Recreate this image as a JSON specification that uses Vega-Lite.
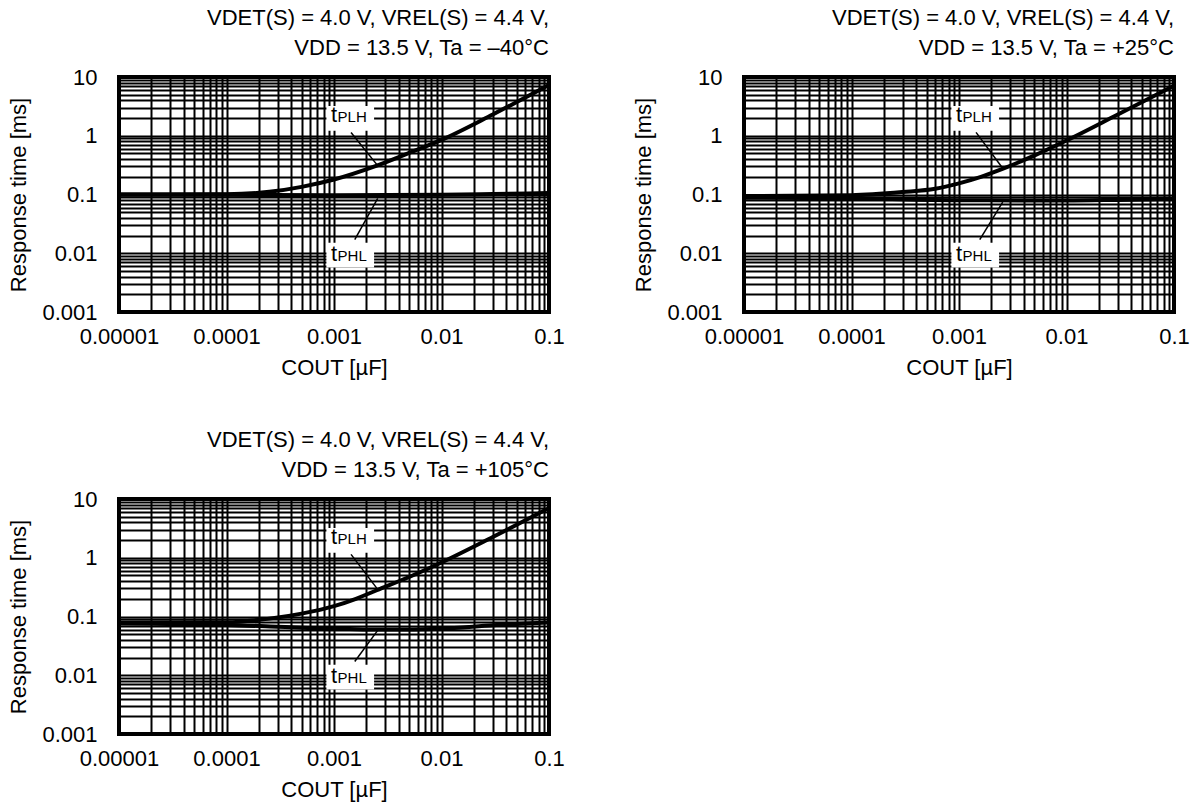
{
  "$schema": "https://vega.github.io/schema/vega-lite/v6.json",
  "padding": {"left": 5, "top": 5, "right": 5, "bottom": 5},
  "config": {
    "font": "Liberation Sans",
    "view": {"stroke": "black", "strokeWidth": 4},
    "axis": {
      "grid": true, "gridColor": "black", "gridWidth": 2, "gridOpacity": 1,
      "ticks": false, "tickSize": 0, "domain": false,
      "labelFont": "Liberation Sans", "labelFontSize": 22, "labelColor": "black",
      "labelFlush": false, "labelOverlap": false,
      "titleFont": "Liberation Sans", "titleFontSize": 22, "titleFontWeight": "normal", "titleColor": "black"
    },
    "title": {"font": "Liberation Sans", "fontSize": 22, "fontWeight": "normal", "color": "black", "anchor": "end", "frame": "group", "lineHeight": 30, "offset": 6}
  },
  "datasets": {
    "curves": [
      {"panel": "a", "series": "tPLH", "c": 0.00001, "t": 0.1},
      {"panel": "a", "series": "tPLH", "c": 0.00003, "t": 0.1},
      {"panel": "a", "series": "tPLH", "c": 0.0001, "t": 0.101},
      {"panel": "a", "series": "tPLH", "c": 0.00025, "t": 0.111},
      {"panel": "a", "series": "tPLH", "c": 0.0005, "t": 0.135},
      {"panel": "a", "series": "tPLH", "c": 0.001, "t": 0.18},
      {"panel": "a", "series": "tPLH", "c": 0.0025, "t": 0.31},
      {"panel": "a", "series": "tPLH", "c": 0.005, "t": 0.51},
      {"panel": "a", "series": "tPLH", "c": 0.01, "t": 0.85},
      {"panel": "a", "series": "tPLH", "c": 0.03, "t": 2.3},
      {"panel": "a", "series": "tPLH", "c": 0.1, "t": 7.3},
      {"panel": "a", "series": "tPHL", "c": 0.00001, "t": 0.1},
      {"panel": "a", "series": "tPHL", "c": 0.0001, "t": 0.099},
      {"panel": "a", "series": "tPHL", "c": 0.001, "t": 0.097},
      {"panel": "a", "series": "tPHL", "c": 0.01, "t": 0.099},
      {"panel": "a", "series": "tPHL", "c": 0.03, "t": 0.102},
      {"panel": "a", "series": "tPHL", "c": 0.1, "t": 0.106},
      {"panel": "b", "series": "tPLH", "c": 0.00001, "t": 0.094},
      {"panel": "b", "series": "tPLH", "c": 0.0001, "t": 0.097},
      {"panel": "b", "series": "tPLH", "c": 0.0003, "t": 0.11},
      {"panel": "b", "series": "tPLH", "c": 0.0006, "t": 0.125},
      {"panel": "b", "series": "tPLH", "c": 0.001, "t": 0.155},
      {"panel": "b", "series": "tPLH", "c": 0.0016, "t": 0.2},
      {"panel": "b", "series": "tPLH", "c": 0.0025, "t": 0.27},
      {"panel": "b", "series": "tPLH", "c": 0.005, "t": 0.46},
      {"panel": "b", "series": "tPLH", "c": 0.01, "t": 0.83},
      {"panel": "b", "series": "tPLH", "c": 0.03, "t": 2.3},
      {"panel": "b", "series": "tPLH", "c": 0.1, "t": 7.1},
      {"panel": "b", "series": "tPHL", "c": 0.00001, "t": 0.088},
      {"panel": "b", "series": "tPHL", "c": 0.0001, "t": 0.086},
      {"panel": "b", "series": "tPHL", "c": 0.001, "t": 0.08},
      {"panel": "b", "series": "tPHL", "c": 0.01, "t": 0.079},
      {"panel": "b", "series": "tPHL", "c": 0.03, "t": 0.081},
      {"panel": "b", "series": "tPHL", "c": 0.1, "t": 0.084},
      {"panel": "c", "series": "tPLH", "c": 0.00001, "t": 0.079},
      {"panel": "c", "series": "tPLH", "c": 0.0001, "t": 0.08},
      {"panel": "c", "series": "tPLH", "c": 0.00025, "t": 0.092},
      {"panel": "c", "series": "tPLH", "c": 0.0005, "t": 0.112},
      {"panel": "c", "series": "tPLH", "c": 0.001, "t": 0.15},
      {"panel": "c", "series": "tPLH", "c": 0.0016, "t": 0.2},
      {"panel": "c", "series": "tPLH", "c": 0.0025, "t": 0.28},
      {"panel": "c", "series": "tPLH", "c": 0.005, "t": 0.47},
      {"panel": "c", "series": "tPLH", "c": 0.01, "t": 0.83},
      {"panel": "c", "series": "tPLH", "c": 0.03, "t": 2.25},
      {"panel": "c", "series": "tPLH", "c": 0.1, "t": 7.0},
      {"panel": "c", "series": "tPHL", "c": 0.00001, "t": 0.076},
      {"panel": "c", "series": "tPHL", "c": 0.0001, "t": 0.072},
      {"panel": "c", "series": "tPHL", "c": 0.0003, "t": 0.067},
      {"panel": "c", "series": "tPHL", "c": 0.001, "t": 0.062},
      {"panel": "c", "series": "tPHL", "c": 0.003, "t": 0.06},
      {"panel": "c", "series": "tPHL", "c": 0.01, "t": 0.062},
      {"panel": "c", "series": "tPHL", "c": 0.03, "t": 0.071},
      {"panel": "c", "series": "tPHL", "c": 0.1, "t": 0.079}
    ],
    "boxes": [
      {"series": "tPLH", "c": 0.00085, "c2": 0.00236, "t": 1.22, "t2": 3.21},
      {"series": "tPHL", "c": 0.00085, "c2": 0.00236, "t": 0.00571, "t2": 0.01507}
    ],
    "leaders": [
      {"panel": "a", "series": "tPLH", "c": 0.00144, "t": 1.14, "c2": 0.00255, "t2": 0.31},
      {"panel": "a", "series": "tPHL", "c": 0.00156, "t": 0.0171, "c2": 0.00255, "t2": 0.086},
      {"panel": "b", "series": "tPLH", "c": 0.00144, "t": 1.14, "c2": 0.00255, "t2": 0.28},
      {"panel": "b", "series": "tPHL", "c": 0.00156, "t": 0.0171, "c2": 0.00255, "t2": 0.074},
      {"panel": "c", "series": "tPLH", "c": 0.00144, "t": 1.14, "c2": 0.00255, "t2": 0.29},
      {"panel": "c", "series": "tPHL", "c": 0.00156, "t": 0.0171, "c2": 0.00255, "t2": 0.058}
    ],
    "mainLetters": [
      {"series": "tPLH", "c": 0.00094, "t": 1.73, "label": "t"},
      {"series": "tPHL", "c": 0.00094, "t": 0.0074, "label": "t"}
    ],
    "subLetters": [
      {"series": "tPLH", "c": 0.00108, "t": 1.73, "label": "PLH"},
      {"series": "tPHL", "c": 0.00108, "t": 0.0074, "label": "PHL"}
    ]
  },
  "columns": 2,
  "spacing": {"row": 47, "column": 63},
  "concat": [
    {
      "width": 430, "height": 235,
      "title": {"text": ["VDET(S) = 4.0 V, VREL(S) = 4.4 V,", "VDD = 13.5 V, Ta = –40°C"]},
      "encoding": {
        "x": {"field": "c", "type": "quantitative", "scale": {"type": "log", "domain": [0.00001, 0.1], "nice": false},
          "axis": {"title": "COUT [µF]", "titlePadding": 10, "labelPadding": 14, "format": "~g",
            "values": [0.00001,0.00002,0.00003,0.00004,0.00005,0.00006,0.00007,0.00008,0.00009,0.0001,0.0002,0.0003,0.0004,0.0005,0.0006,0.0007,0.0008,0.0009,0.001,0.002,0.003,0.004,0.005,0.006,0.007,0.008,0.009,0.01,0.02,0.03,0.04,0.05,0.06,0.07,0.08,0.09,0.1],
            "labelExpr": "abs(log(datum.value)/LN10 - round(log(datum.value)/LN10)) < 0.000001 ? datum.label : ''"}},
        "y": {"field": "t", "type": "quantitative", "scale": {"type": "log", "domain": [0.001, 10], "nice": false},
          "axis": {"title": "Response time [ms]", "titlePadding": 11, "labelPadding": 22, "format": "~g",
            "values": [0.001,0.002,0.003,0.004,0.005,0.006,0.007,0.008,0.009,0.01,0.02,0.03,0.04,0.05,0.06,0.07,0.08,0.09,0.1,0.2,0.3,0.4,0.5,0.6,0.7,0.8,0.9,1,2,3,4,5,6,7,8,9,10],
            "labelExpr": "abs(log(datum.value)/LN10 - round(log(datum.value)/LN10)) < 0.000001 ? datum.label : ''"}}
      },
      "layer": [
        {"data": {"name": "curves"}, "transform": [{"filter": "datum.panel == 'a'"}],
          "mark": {"type": "line", "color": "black", "strokeWidth": 4, "interpolate": "monotone", "clip": true},
          "encoding": {"detail": {"field": "series"}}},
        {"data": {"name": "boxes"}, "mark": {"type": "rect", "fill": "white"},
          "encoding": {"x2": {"field": "c2"}, "y2": {"field": "t2"}}},
        {"data": {"name": "leaders"}, "transform": [{"filter": "datum.panel == 'a'"}],
          "mark": {"type": "rule", "color": "black", "strokeWidth": 1.5},
          "encoding": {"x2": {"field": "c2"}, "y2": {"field": "t2"}}},
        {"data": {"name": "mainLetters"}, "mark": {"type": "text", "fontSize": 22, "align": "left", "baseline": "alphabetic", "color": "black"},
          "encoding": {"text": {"field": "label"}}},
        {"data": {"name": "subLetters"}, "mark": {"type": "text", "fontSize": 15, "align": "left", "baseline": "alphabetic", "color": "black"},
          "encoding": {"text": {"field": "label"}}}
      ]
    },
    {
      "width": 430, "height": 235,
      "title": {"text": ["VDET(S) = 4.0 V, VREL(S) = 4.4 V,", "VDD = 13.5 V, Ta = +25°C"]},
      "encoding": {
        "x": {"field": "c", "type": "quantitative", "scale": {"type": "log", "domain": [0.00001, 0.1], "nice": false},
          "axis": {"title": "COUT [µF]", "titlePadding": 10, "labelPadding": 14, "format": "~g",
            "values": [0.00001,0.00002,0.00003,0.00004,0.00005,0.00006,0.00007,0.00008,0.00009,0.0001,0.0002,0.0003,0.0004,0.0005,0.0006,0.0007,0.0008,0.0009,0.001,0.002,0.003,0.004,0.005,0.006,0.007,0.008,0.009,0.01,0.02,0.03,0.04,0.05,0.06,0.07,0.08,0.09,0.1],
            "labelExpr": "abs(log(datum.value)/LN10 - round(log(datum.value)/LN10)) < 0.000001 ? datum.label : ''"}},
        "y": {"field": "t", "type": "quantitative", "scale": {"type": "log", "domain": [0.001, 10], "nice": false},
          "axis": {"title": "Response time [ms]", "titlePadding": 11, "labelPadding": 22, "format": "~g",
            "values": [0.001,0.002,0.003,0.004,0.005,0.006,0.007,0.008,0.009,0.01,0.02,0.03,0.04,0.05,0.06,0.07,0.08,0.09,0.1,0.2,0.3,0.4,0.5,0.6,0.7,0.8,0.9,1,2,3,4,5,6,7,8,9,10],
            "labelExpr": "abs(log(datum.value)/LN10 - round(log(datum.value)/LN10)) < 0.000001 ? datum.label : ''"}}
      },
      "layer": [
        {"data": {"name": "curves"}, "transform": [{"filter": "datum.panel == 'b'"}],
          "mark": {"type": "line", "color": "black", "strokeWidth": 4, "interpolate": "monotone", "clip": true},
          "encoding": {"detail": {"field": "series"}}},
        {"data": {"name": "boxes"}, "mark": {"type": "rect", "fill": "white"},
          "encoding": {"x2": {"field": "c2"}, "y2": {"field": "t2"}}},
        {"data": {"name": "leaders"}, "transform": [{"filter": "datum.panel == 'b'"}],
          "mark": {"type": "rule", "color": "black", "strokeWidth": 1.5},
          "encoding": {"x2": {"field": "c2"}, "y2": {"field": "t2"}}},
        {"data": {"name": "mainLetters"}, "mark": {"type": "text", "fontSize": 22, "align": "left", "baseline": "alphabetic", "color": "black"},
          "encoding": {"text": {"field": "label"}}},
        {"data": {"name": "subLetters"}, "mark": {"type": "text", "fontSize": 15, "align": "left", "baseline": "alphabetic", "color": "black"},
          "encoding": {"text": {"field": "label"}}}
      ]
    },
    {
      "width": 430, "height": 235,
      "title": {"text": ["VDET(S) = 4.0 V, VREL(S) = 4.4 V,", "VDD = 13.5 V, Ta = +105°C"]},
      "encoding": {
        "x": {"field": "c", "type": "quantitative", "scale": {"type": "log", "domain": [0.00001, 0.1], "nice": false},
          "axis": {"title": "COUT [µF]", "titlePadding": 10, "labelPadding": 14, "format": "~g",
            "values": [0.00001,0.00002,0.00003,0.00004,0.00005,0.00006,0.00007,0.00008,0.00009,0.0001,0.0002,0.0003,0.0004,0.0005,0.0006,0.0007,0.0008,0.0009,0.001,0.002,0.003,0.004,0.005,0.006,0.007,0.008,0.009,0.01,0.02,0.03,0.04,0.05,0.06,0.07,0.08,0.09,0.1],
            "labelExpr": "abs(log(datum.value)/LN10 - round(log(datum.value)/LN10)) < 0.000001 ? datum.label : ''"}},
        "y": {"field": "t", "type": "quantitative", "scale": {"type": "log", "domain": [0.001, 10], "nice": false},
          "axis": {"title": "Response time [ms]", "titlePadding": 11, "labelPadding": 22, "format": "~g",
            "values": [0.001,0.002,0.003,0.004,0.005,0.006,0.007,0.008,0.009,0.01,0.02,0.03,0.04,0.05,0.06,0.07,0.08,0.09,0.1,0.2,0.3,0.4,0.5,0.6,0.7,0.8,0.9,1,2,3,4,5,6,7,8,9,10],
            "labelExpr": "abs(log(datum.value)/LN10 - round(log(datum.value)/LN10)) < 0.000001 ? datum.label : ''"}}
      },
      "layer": [
        {"data": {"name": "curves"}, "transform": [{"filter": "datum.panel == 'c'"}],
          "mark": {"type": "line", "color": "black", "strokeWidth": 4, "interpolate": "monotone", "clip": true},
          "encoding": {"detail": {"field": "series"}}},
        {"data": {"name": "boxes"}, "mark": {"type": "rect", "fill": "white"},
          "encoding": {"x2": {"field": "c2"}, "y2": {"field": "t2"}}},
        {"data": {"name": "leaders"}, "transform": [{"filter": "datum.panel == 'c'"}],
          "mark": {"type": "rule", "color": "black", "strokeWidth": 1.5},
          "encoding": {"x2": {"field": "c2"}, "y2": {"field": "t2"}}},
        {"data": {"name": "mainLetters"}, "mark": {"type": "text", "fontSize": 22, "align": "left", "baseline": "alphabetic", "color": "black"},
          "encoding": {"text": {"field": "label"}}},
        {"data": {"name": "subLetters"}, "mark": {"type": "text", "fontSize": 15, "align": "left", "baseline": "alphabetic", "color": "black"},
          "encoding": {"text": {"field": "label"}}}
      ]
    }
  ]
}
